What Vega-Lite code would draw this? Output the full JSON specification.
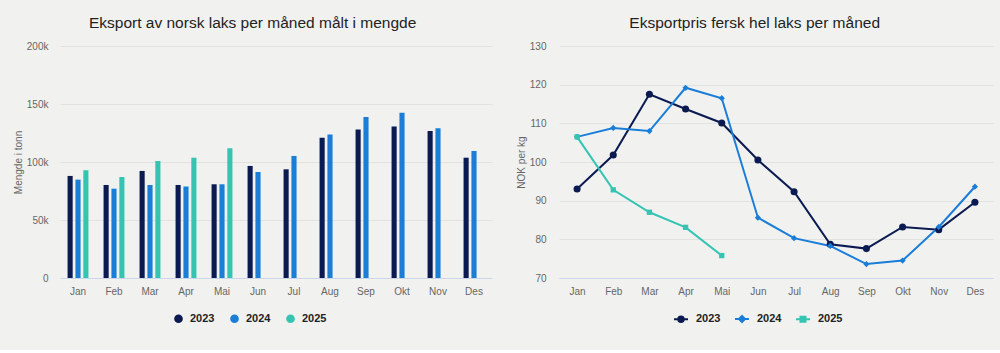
{
  "$schema": "https://vega.github.io/schema/vega-lite/v6.json",
  "background": "#f1f2f0",
  "padding": {"left": 13, "top": 15, "right": 7, "bottom": 24},
  "spacing": 24,
  "resolve": {"scale": {"color": "independent"}, "legend": {"color": "independent"}},
  "config": {
    "font": "Liberation Sans",
    "view": {"stroke": null},
    "axis": {"labelColor": "#666666", "labelFontSize": 10, "titleColor": "#666666", "titleFontSize": 10, "titleFontWeight": "normal", "gridColor": "#e2e3e1", "ticks": false, "tickSize": 0, "domain": false},
    "axisX": {"domain": true, "domainColor": "#ccd6eb", "grid": false, "labelAngle": 0, "labelPadding": 8},
    "title": {"fontSize": 15.5, "fontWeight": "normal", "color": "#222222", "anchor": "middle", "frame": "bounds", "offset": 10},
    "legend": {"orient": "none", "direction": "horizontal", "title": null, "labelFont": "Liberation Sans", "labelFontWeight": "bold", "labelFontSize": 11, "labelColor": "#222222"}
  },
  "datasets": {
    "volume": [
      {"month": "Jan", "year": "2023", "tonn": 88000},
      {"month": "Feb", "year": "2023", "tonn": 80200},
      {"month": "Mar", "year": "2023", "tonn": 92300},
      {"month": "Apr", "year": "2023", "tonn": 80200},
      {"month": "Mai", "year": "2023", "tonn": 80800},
      {"month": "Jun", "year": "2023", "tonn": 96600},
      {"month": "Jul", "year": "2023", "tonn": 93700},
      {"month": "Aug", "year": "2023", "tonn": 120900},
      {"month": "Sep", "year": "2023", "tonn": 128100},
      {"month": "Okt", "year": "2023", "tonn": 130700},
      {"month": "Nov", "year": "2023", "tonn": 126700},
      {"month": "Des", "year": "2023", "tonn": 103700},
      {"month": "Jan", "year": "2024", "tonn": 84800},
      {"month": "Feb", "year": "2024", "tonn": 77000},
      {"month": "Mar", "year": "2024", "tonn": 80200},
      {"month": "Apr", "year": "2024", "tonn": 78800},
      {"month": "Mai", "year": "2024", "tonn": 80800},
      {"month": "Jun", "year": "2024", "tonn": 91400},
      {"month": "Jul", "year": "2024", "tonn": 105200},
      {"month": "Aug", "year": "2024", "tonn": 123800},
      {"month": "Sep", "year": "2024", "tonn": 138700},
      {"month": "Okt", "year": "2024", "tonn": 142400},
      {"month": "Nov", "year": "2024", "tonn": 129200},
      {"month": "Des", "year": "2024", "tonn": 109500},
      {"month": "Jan", "year": "2025", "tonn": 92900},
      {"month": "Feb", "year": "2025", "tonn": 87000},
      {"month": "Mar", "year": "2025", "tonn": 100800},
      {"month": "Apr", "year": "2025", "tonn": 103700},
      {"month": "Mai", "year": "2025", "tonn": 111800}
    ],
    "price": [
      {"month": "Jan", "year": "2023", "nok": 93.0},
      {"month": "Feb", "year": "2023", "nok": 101.8},
      {"month": "Mar", "year": "2023", "nok": 117.5},
      {"month": "Apr", "year": "2023", "nok": 113.7},
      {"month": "Mai", "year": "2023", "nok": 110.1},
      {"month": "Jun", "year": "2023", "nok": 100.5},
      {"month": "Jul", "year": "2023", "nok": 92.3},
      {"month": "Aug", "year": "2023", "nok": 78.7},
      {"month": "Sep", "year": "2023", "nok": 77.6},
      {"month": "Okt", "year": "2023", "nok": 83.2},
      {"month": "Nov", "year": "2023", "nok": 82.5},
      {"month": "Des", "year": "2023", "nok": 89.6},
      {"month": "Jan", "year": "2024", "nok": 106.5},
      {"month": "Feb", "year": "2024", "nok": 108.8},
      {"month": "Mar", "year": "2024", "nok": 108.0},
      {"month": "Apr", "year": "2024", "nok": 119.2},
      {"month": "Mai", "year": "2024", "nok": 116.5},
      {"month": "Jun", "year": "2024", "nok": 85.6},
      {"month": "Jul", "year": "2024", "nok": 80.3},
      {"month": "Aug", "year": "2024", "nok": 78.3},
      {"month": "Sep", "year": "2024", "nok": 73.6},
      {"month": "Okt", "year": "2024", "nok": 74.5},
      {"month": "Nov", "year": "2024", "nok": 83.2},
      {"month": "Des", "year": "2024", "nok": 93.6},
      {"month": "Jan", "year": "2025", "nok": 106.5},
      {"month": "Feb", "year": "2025", "nok": 92.8},
      {"month": "Mar", "year": "2025", "nok": 87.0},
      {"month": "Apr", "year": "2025", "nok": 83.1},
      {"month": "Mai", "year": "2025", "nok": 75.8}
    ]
  },
  "hconcat": [
    {
      "title": "Eksport av norsk laks per måned målt i mengde",
      "width": 432,
      "height": 232,
      "data": {"name": "volume"},
      "mark": {"type": "bar"},
      "encoding": {
        "x": {"field": "month", "type": "nominal", "sort": ["Jan","Feb","Mar","Apr","Mai","Jun","Jul","Aug","Sep","Okt","Nov","Des"], "title": null, "scale": {"paddingInner": 0.42, "paddingOuter": 0.21}},
        "xOffset": {"field": "year", "type": "nominal", "scale": {"paddingInner": 0.35}},
        "y": {"field": "tonn", "type": "quantitative", "title": "Mengde i tonn", "scale": {"domain": [0, 200000]}, "axis": {"values": [0, 50000, 100000, 150000, 200000], "labelExpr": "datum.value === 0 ? '0' : (datum.value / 1000) + 'k'", "labelPadding": 12, "titlePadding": 3}},
        "color": {"field": "year", "type": "nominal", "scale": {"domain": ["2023","2024","2025"], "range": ["#0b1b51","#1a7dd7","#35c4b2"]}, "legend": {"symbolType": "circle", "symbolSize": 75, "labelOffset": 6, "columnPadding": 14, "legendX": 113, "legendY": 267}}
      }
    },
    {
      "title": "Eksportpris fersk hel laks per måned",
      "width": 434,
      "height": 232,
      "data": {"name": "price"},
      "encoding": {
        "x": {"field": "month", "type": "nominal", "sort": ["Jan","Feb","Mar","Apr","Mai","Jun","Jul","Aug","Sep","Okt","Nov","Des"], "title": null, "scale": {"type": "point", "padding": 0.5}},
        "y": {"field": "nok", "type": "quantitative", "title": "NOK per kg", "scale": {"domain": [70, 130]}, "axis": {"values": [70, 80, 90, 100, 110, 120, 130], "labelPadding": 13, "titlePadding": 3}},
        "color": {"field": "year", "type": "nominal", "scale": {"domain": ["2023","2024","2025"], "range": ["#0b1b51","#1a7dd7","#35c4b2"]},
          "legend": {"symbolSize": 100, "labelOffset": 9, "columnPadding": 10, "legendX": 116, "legendY": 267,
            "encode": {"symbols": {"update": {
              "shape": {"signal": "datum.value === '2023' ? 'M-1.4,0H1.4M-0.55,0A0.55,0.55 0 1 0 0.55,0A0.55,0.55 0 1 0 -0.55,0Z' : datum.value === '2024' ? 'M-1.4,0H1.4M0,-0.6L0.6,0L0,0.6L-0.6,0Z' : 'M-1.4,0H1.4M-0.5,-0.5H0.5V0.5H-0.5Z'"},
              "fill": {"signal": "{'2023':'#0b1b51','2024':'#1a7dd7','2025':'#35c4b2'}[datum.value]"},
              "stroke": {"signal": "{'2023':'#0b1b51','2024':'#1a7dd7','2025':'#35c4b2'}[datum.value]"},
              "strokeWidth": {"value": 2},
              "opacity": {"value": 1}
            }}}}}
      },
      "layer": [
        {"mark": {"type": "line", "strokeWidth": 2}},
        {"mark": {"type": "point", "filled": true, "opacity": 1},
         "encoding": {
           "shape": {"field": "year", "type": "nominal", "scale": {"domain": ["2023","2024","2025"], "range": ["circle","diamond","square"]}, "legend": null},
           "size": {"field": "year", "type": "ordinal", "scale": {"domain": ["2023","2024","2025"], "range": [50, 28, 42]}, "legend": null}
         }}
      ]
    }
  ]
}
